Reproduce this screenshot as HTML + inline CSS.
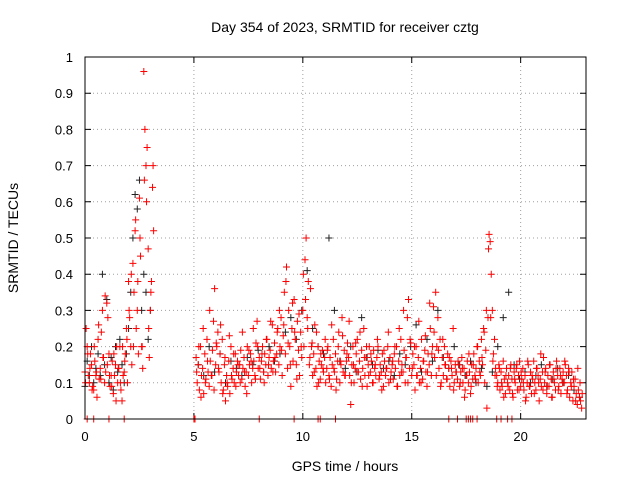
<!DOCTYPE html>
<html><head><meta charset="utf-8">
<style>
html,body{margin:0;padding:0;background:#fff;}
svg{display:block;font-family:"Liberation Sans",sans-serif;}
</style></head>
<body>
<svg id="chart" width="640" height="480" xmlns="http://www.w3.org/2000/svg">
<rect width="640" height="480" fill="#fff"/>
<text x="345" y="32" text-anchor="middle" font-size="14">Day 354 of 2023, SRMTID for receiver cztg</text>
<text x="345" y="471" text-anchor="middle" font-size="14">GPS time / hours</text>
<text transform="translate(18,238) rotate(-90)" text-anchor="middle" font-size="14">SRMTID / TECUs</text>
<g id="grid"></g><g id="ticks"></g><g id="marks"></g>
<rect x="85" y="57" width="501" height="362" fill="none" stroke="#000" stroke-width="1"/>
</svg>
<script>
const xTicks=[0,5,10,15,20];
const yTicks=[0,0.1,0.2,0.3,0.4,0.5,0.6,0.7,0.8,0.9,1];
const yTickLabels=["0","0.1","0.2","0.3","0.4","0.5","0.6","0.7","0.8","0.9","1"];
const stepHours=0.05;
const redStart1=0;
const redVals1=[.13,.25,.2,.12,.1,.18,.15,.09,.08,.16,.12,.06,.22,.11,.14,.24,.3,.17,.1,.13,.32,.28,.18,.09,.12,.16,.07,.12,.15,.2,.1,.14,.2,.08,.05,.12,.13,.18,.25,.1,.38,.28,.2,.15,.43,.35,.52,.25,.3,.18,.61,.45,.2,.14,.96,.8,.7,.75,.47,.17,.3,.38,.64,.52];
const redStart1b=0.025;
const redStep1b=0.1;
const redVals1b=[.1,.18,.14,.08,.2,.13,.26,.11,.17,.34,.15,.12,.09,.18,.05,.14,.1,.2,.16,.22,.3,.4,.2,.55,.38,.5,.2,.66,.6,.25,.35,.7];
const redStart2=5.1;
const redVals2=[.17,.1,.15,.08,.2,.12,.14,.07,.18,.11,.22,.13,.09,.16,.12,.19,.27,.36,.15,.2,
.24,.13,.18,.1,.22,.08,.15,.05,.12,.09,.16,.07,.2,.11,.14,.1,.18,.13,.16,.12,
.15,.19,.11,.14,.17,.09,.13,.2,.12,.15,.18,.1,.14,.16,.12,.21,.27,.14,.17,.11,
.16,.2,.13,.18,.15,.22,.12,.17,.19,.14,.26,.16,.21,.13,.18,.25,.15,.2,.28,.12,
.23,.35,.18,.42,.14,.3,.2,.09,.25,.16,.33,.22,.15,.27,.19,.12,.24,.17,.3,.2,
.44,.5,.28,.38,.15,.36,.2,.12,.18,.26,.14,.09,.2,.16,.11,.15,.19,.13,.17,.1,
.14,.2,.12,.17,.09,.15,.22,.13,.18,.11,.16,.24,.1,.15,.28,.13,.19,.12,.16,.21,
.17,.12,.04,.15,.2,.1,.14,.18,.22,.13,.16,.11,.19,.14,.25,.12,.17,.09,.15,.2,
.13,.16,.1,.19,.14,.12,.17,.2,.11,.15,.13,.18,.09,.16,.12,.14,.2,.1,.17,.13,
.15,.11,.18,.14,.2,.09,.16,.12,.22,.15,.13,.19,.1,.17,.28,.33,.14,.21,.12,.18,
.15,.08,.2,.12,.17,.1,.14,.22,.11,.16,.19,.13,.09,.18,.15,.25,.12,.2,.31,.17,
.35,.2,.28,.14,.22,.1,.17,.12,.2,.15,.11,.18,.14,.09,.16,.12,.25,.1,.15,.13,
.11,.15,.09,.13,.17,.1,.14,.08,.12,.16,.1,.13,.07,.15,.11,.18,.12,.14,.2,.1,
.16,.12,.22,.15,.25,.1,.19,.03,.28,.51,.49,.4,.3,.18,.22,.14,.12,.1,.15,.08,
.13,.09,.16,.11,.07,.14,.1,.12,.08,.15,.11,.06,.13,.1,.14,.08,.12,.16,.09,.11,
.14,.08,.12,.06,.1,.15,.09,.13,.07,.11,.16,.1,.08,.14,.12,.05,.11,.09,.13,.17,
.1,.14,.07,.12,.09,.15,.11,.06,.13,.1,.08,.16,.12,.09,.14,.07,.11,.13,.1,.15,
.12,.08,.14,.06,.1,.13,.05,.09,.11,.07,.04,.08,.06,.05,.03];
const redStart3=5.125;
const redStep3=0.1;
const redVals3=[.13,.2,.06,.25,.1,.16,.3,.12,.08,.21,.14,.26,.07,.17,.1,.23,.12,.18,.09,.15,
.1,.24,.13,.07,.19,.16,.25,.11,.2,.14,.18,.1,.22,.15,.27,.13,.17,.24,.3,.19,
.26,.38,.21,.15,.32,.24,.11,.29,.2,.4,.33,.25,.17,.21,.13,.24,.1,.18,.14,.22,
.19,.11,.26,.14,.08,.2,.16,.23,.12,.18,.27,.1,.15,.21,.13,.24,.09,.17,.2,.12,
.18,.1,.15,.22,.12,.08,.19,.14,.24,.11,.16,.2,.09,.25,.13,.3,.17,.1,.22,.14,
.2,.12,.27,.1,.16,.23,.13,.32,.18,.24,.12,.19,.09,.22,.15,.11,.17,.14,.08,.13,
.16,.1,.14,.06,.12,.18,.09,.15,.11,.2,.13,.17,.24,.3,.47,.28,.16,.12,.09,.14,
.1,.06,.12,.09,.14,.07,.11,.15,.08,.13,.1,.05,.16,.09,.12,.07,.14,.1,.18,.08,
.13,.09,.15,.06,.11,.14,.08,.12,.1,.16,.07,.13,.09,.11,.05,.14,.1,.07];
const redZeroTimes=[0.1,0.4,1.1,1.8,5.0,5.05,8.0,9.6,10.7,10.8,11.5,16.7,17.1,17.5,17.6,17.7,17.8,18.0,18.9,19.1,19.4,19.6];
const blackStep1=0.1;
const blackStart1=0;
const blackVals1=[.09,.16,.12,.2,.1,.14,.18,.12,.4,.15,.33,.1,.17,.08,.2,.13,.22,.15,.1,.18,.25,.35,.5,.62,.58,.66,.3,.4,.35,.22,.3];
const blackStep2=0.25;
const blackStart2=5.2;
const blackVals2=[.15,.12,.2,.13,.18,.1,.16,.14,.12,.17,.15,.19,.13,.2,.16,.18,.24,.28,.22,.3,.41,.25,.2,.18,.5,.3,.16,.14,.2,.13,.28,.17,.15,.19,.14,.16,.12,.18,.15,.2,.26,.13,.22,.16,.3,.17,.14,.2,.15,.12,.16,.1,.14,.09,.13,.2,.28,.35,.15,.11,.13,.1,.12,.15,.09,.11,.14,.1,.12,.08,.06];

const NS="http://www.w3.org/2000/svg";
const X0=85,X1=586,Y0=419,Y1=57,XMAX=23;
function xs(t){return X0+(X1-X0)*t/XMAX;}
function ys(v){return Y0-(Y0-Y1)*v;}
function mk(tag,attrs,parent){const e=document.createElementNS(NS,tag);for(const k in attrs)e.setAttribute(k,attrs[k]);parent.appendChild(e);return e;}
const grid=document.getElementById('grid'),ticks=document.getElementById('ticks'),marks=document.getElementById('marks');
xTicks.forEach(t=>{
  const x=xs(t);
  if(t>0){const g=mk('line',{x1:x,x2:x,y1:Y0,y2:Y1,stroke:'#a0a0a0','stroke-dasharray':'1,3'},grid);
  
  }
  const tk=mk('path',{d:`M${x},${Y0}v-6M${x},${Y1}v6`,stroke:'#000'},ticks);
  
  
  const lb=mk('text',{x:x,y:Y0+22,'text-anchor':'middle','font-size':'13'},ticks);lb.textContent=String(t);
  
  
});
yTicks.forEach((v,i)=>{
  const y=ys(v);
  if(v>0&&v<1){const g=mk('line',{x1:X0,x2:X1,y1:y,y2:y,stroke:'#a0a0a0','stroke-dasharray':'1,3'},grid);
  
  }
  const tk=mk('path',{d:`M${X0},${y}h6M${X1},${y}h-6`,stroke:'#000'},ticks);
  
  
  const lb=mk('text',{x:X0-12,y:y+5,'text-anchor':'end','font-size':'13'},ticks);lb.textContent=yTickLabels[i];
  
  
});
function plus(t,v,col,name){
  const x=xs(t),y=ys(v);
  const p=mk('path',{d:`M${x-3.5},${y}h7M${x},${y-3.5}v7`,stroke:col,'stroke-width':'1'},marks);
  
  
}
blackVals1.forEach((v,i)=>plus(blackStart1+i*blackStep1,v,'#222','black-point'));
blackVals2.forEach((v,i)=>plus(blackStart2+i*blackStep2,v,'#222','black-point'));
redVals1.forEach((v,i)=>plus(redStart1+i*stepHours,v,'#ff0000','red-point'));
redVals1b.forEach((v,i)=>plus(redStart1b+i*redStep1b,v,'#ff0000','red-point'));
redVals2.forEach((v,i)=>plus(redStart2+i*stepHours,v,'#ff0000','red-point'));
redVals3.forEach((v,i)=>plus(redStart3+i*redStep3,v,'#ff0000','red-point'));
redZeroTimes.forEach(t=>plus(t,0,'#ff0000','red-zero-point'));
</script>
</body></html>
